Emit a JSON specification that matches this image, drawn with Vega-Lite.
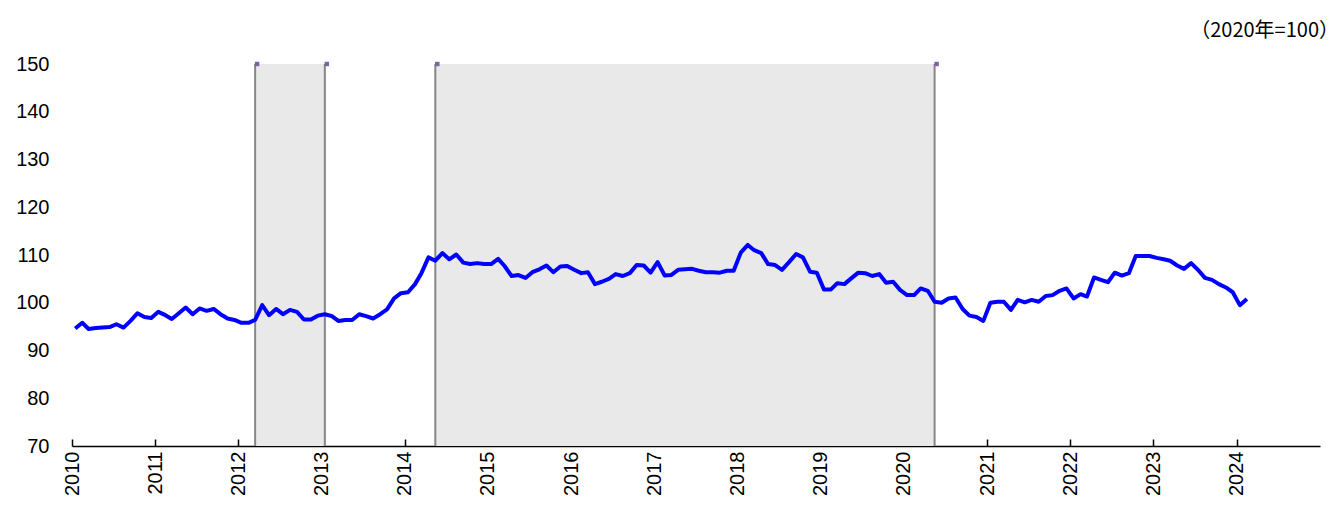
{
  "$schema": "https://vega.github.io/schema/vega-lite/v6.json",
  "width": 1248,
  "height": 382,
  "autosize": "none",
  "padding": {"left": 72, "top": 64, "right": 19, "bottom": 64},
  "background": "white",
  "title": {"text": "（2020年=100）", "anchor": "end", "dx": 19, "offset": 13, "fontSize": 20, "font": "Noto Sans CJK JP", "fontWeight": "normal", "color": "#000000"},
  "config": {"view": {"stroke": null}},
  "datasets": {
    "series": [
      {"d":"2010-01-15","v":94.6},{"d":"2010-02-15","v":95.8},{"d":"2010-03-15","v":94.5},{"d":"2010-04-15","v":94.7},{"d":"2010-05-15","v":94.8},{"d":"2010-06-15","v":94.9},{"d":"2010-07-15","v":95.5},{"d":"2010-08-15","v":94.8},{"d":"2010-09-15","v":96.2},{"d":"2010-10-15","v":97.8},{"d":"2010-11-15","v":97.0},{"d":"2010-12-15","v":96.8},
      {"d":"2011-01-15","v":98.1},{"d":"2011-02-15","v":97.4},{"d":"2011-03-15","v":96.6},{"d":"2011-04-15","v":97.8},{"d":"2011-05-15","v":99.0},{"d":"2011-06-15","v":97.6},{"d":"2011-07-15","v":98.8},{"d":"2011-08-15","v":98.3},{"d":"2011-09-15","v":98.7},{"d":"2011-10-15","v":97.6},{"d":"2011-11-15","v":96.7},{"d":"2011-12-15","v":96.4},
      {"d":"2012-01-15","v":95.8},{"d":"2012-02-15","v":95.8},{"d":"2012-03-15","v":96.4},{"d":"2012-04-15","v":99.5},{"d":"2012-05-15","v":97.4},{"d":"2012-06-15","v":98.7},{"d":"2012-07-15","v":97.6},{"d":"2012-08-15","v":98.5},{"d":"2012-09-15","v":98.1},{"d":"2012-10-15","v":96.5},{"d":"2012-11-15","v":96.5},{"d":"2012-12-15","v":97.3},
      {"d":"2013-01-15","v":97.6},{"d":"2013-02-15","v":97.2},{"d":"2013-03-15","v":96.2},{"d":"2013-04-15","v":96.4},{"d":"2013-05-15","v":96.4},{"d":"2013-06-15","v":97.6},{"d":"2013-07-15","v":97.2},{"d":"2013-08-15","v":96.7},{"d":"2013-09-15","v":97.6},{"d":"2013-10-15","v":98.6},{"d":"2013-11-15","v":100.9},{"d":"2013-12-15","v":102.0},
      {"d":"2014-01-15","v":102.2},{"d":"2014-02-15","v":103.9},{"d":"2014-03-15","v":106.2},{"d":"2014-04-15","v":109.5},{"d":"2014-05-15","v":108.8},{"d":"2014-06-15","v":110.4},{"d":"2014-07-15","v":109.1},{"d":"2014-08-15","v":110.1},{"d":"2014-09-15","v":108.4},{"d":"2014-10-15","v":108.1},{"d":"2014-11-15","v":108.3},{"d":"2014-12-15","v":108.1},
      {"d":"2015-01-15","v":108.1},{"d":"2015-02-15","v":109.2},{"d":"2015-03-15","v":107.7},{"d":"2015-04-15","v":105.6},{"d":"2015-05-15","v":105.8},{"d":"2015-06-15","v":105.2},{"d":"2015-07-15","v":106.4},{"d":"2015-08-15","v":107.0},{"d":"2015-09-15","v":107.8},{"d":"2015-10-15","v":106.4},{"d":"2015-11-15","v":107.6},{"d":"2015-12-15","v":107.7},
      {"d":"2016-01-15","v":106.9},{"d":"2016-02-15","v":106.2},{"d":"2016-03-15","v":106.4},{"d":"2016-04-15","v":103.9},{"d":"2016-05-15","v":104.4},{"d":"2016-06-15","v":105.0},{"d":"2016-07-15","v":106.0},{"d":"2016-08-15","v":105.6},{"d":"2016-09-15","v":106.2},{"d":"2016-10-15","v":107.9},{"d":"2016-11-15","v":107.8},{"d":"2016-12-15","v":106.3},
      {"d":"2017-01-15","v":108.5},{"d":"2017-02-15","v":105.7},{"d":"2017-03-15","v":105.8},{"d":"2017-04-15","v":106.9},{"d":"2017-05-15","v":107.0},{"d":"2017-06-15","v":107.1},{"d":"2017-07-15","v":106.7},{"d":"2017-08-15","v":106.4},{"d":"2017-09-15","v":106.4},{"d":"2017-10-15","v":106.3},{"d":"2017-11-15","v":106.7},{"d":"2017-12-15","v":106.7},
      {"d":"2018-01-15","v":110.5},{"d":"2018-02-15","v":112.1},{"d":"2018-03-15","v":111.0},{"d":"2018-04-15","v":110.4},{"d":"2018-05-15","v":108.1},{"d":"2018-06-15","v":107.9},{"d":"2018-07-15","v":106.9},{"d":"2018-08-15","v":108.5},{"d":"2018-09-15","v":110.2},{"d":"2018-10-15","v":109.5},{"d":"2018-11-15","v":106.5},{"d":"2018-12-15","v":106.3},
      {"d":"2019-01-15","v":102.8},{"d":"2019-02-15","v":102.8},{"d":"2019-03-15","v":104.1},{"d":"2019-04-15","v":103.9},{"d":"2019-05-15","v":105.1},{"d":"2019-06-15","v":106.3},{"d":"2019-07-15","v":106.2},{"d":"2019-08-15","v":105.6},{"d":"2019-09-15","v":106.0},{"d":"2019-10-15","v":104.2},{"d":"2019-11-15","v":104.4},{"d":"2019-12-15","v":102.7},
      {"d":"2020-01-15","v":101.6},{"d":"2020-02-15","v":101.6},{"d":"2020-03-15","v":103.0},{"d":"2020-04-15","v":102.5},{"d":"2020-05-15","v":100.2},{"d":"2020-06-15","v":100.0},{"d":"2020-07-15","v":100.9},{"d":"2020-08-15","v":101.1},{"d":"2020-09-15","v":98.7},{"d":"2020-10-15","v":97.3},{"d":"2020-11-15","v":97.0},{"d":"2020-12-15","v":96.2},
      {"d":"2021-01-15","v":100.0},{"d":"2021-02-15","v":100.2},{"d":"2021-03-15","v":100.2},{"d":"2021-04-15","v":98.5},{"d":"2021-05-15","v":100.6},{"d":"2021-06-15","v":100.1},{"d":"2021-07-15","v":100.6},{"d":"2021-08-15","v":100.2},{"d":"2021-09-15","v":101.4},{"d":"2021-10-15","v":101.6},{"d":"2021-11-15","v":102.5},{"d":"2021-12-15","v":103.0},
      {"d":"2022-01-15","v":100.9},{"d":"2022-02-15","v":101.8},{"d":"2022-03-15","v":101.3},{"d":"2022-04-15","v":105.3},{"d":"2022-05-15","v":104.8},{"d":"2022-06-15","v":104.3},{"d":"2022-07-15","v":106.3},{"d":"2022-08-15","v":105.7},{"d":"2022-09-15","v":106.2},{"d":"2022-10-15","v":109.8},{"d":"2022-11-15","v":109.8},{"d":"2022-12-15","v":109.8},
      {"d":"2023-01-15","v":109.4},{"d":"2023-02-15","v":109.1},{"d":"2023-03-15","v":108.8},{"d":"2023-04-15","v":107.8},{"d":"2023-05-15","v":107.1},{"d":"2023-06-15","v":108.3},{"d":"2023-07-15","v":106.9},{"d":"2023-08-15","v":105.2},{"d":"2023-09-15","v":104.8},{"d":"2023-10-15","v":103.9},{"d":"2023-11-15","v":103.2},{"d":"2023-12-15","v":102.2},
      {"d":"2024-01-15","v":99.5},{"d":"2024-02-15","v":100.8}
    ],
    "periods": [
      {"start":"2012-03-15","end":"2013-01-15"},
      {"start":"2014-05-15","end":"2020-05-15"}
    ],
    "edges": [
      {"d":"2012-03-15"},{"d":"2013-01-15"},{"d":"2014-05-15"},{"d":"2020-05-15"}
    ]
  },
  "layer": [
    {
      "data": {"name": "periods"},
      "mark": {"type": "rect", "color": "#e9e9e9"},
      "encoding": {
        "x": {"field": "start", "type": "temporal"},
        "x2": {"field": "end"}
      }
    },
    {
      "data": {"name": "edges"},
      "mark": {"type": "rule", "color": "#868686", "strokeWidth": 2},
      "encoding": {
        "x": {"field": "d", "type": "temporal"}
      }
    },
    {
      "data": {"name": "edges"},
      "mark": {"type": "point", "shape": "square", "filled": true, "color": "#8064a2", "size": 20, "opacity": 1, "xOffset": 2},
      "encoding": {
        "x": {"field": "d", "type": "temporal"},
        "y": {"datum": 150, "type": "quantitative"}
      }
    },
    {
      "data": {"name": "series"},
      "mark": {"type": "line", "color": "#0000ff", "strokeWidth": 4, "strokeJoin": "round"},
      "encoding": {
        "x": {
          "field": "d", "type": "temporal",
          "scale": {"domain": ["2010-01-01", "2025-01-01"]},
          "axis": {
            "title": null, "format": "%Y",
            "values": ["2010-01-01","2011-01-01","2012-01-01","2013-01-01","2014-01-01","2015-01-01","2016-01-01","2017-01-01","2018-01-01","2019-01-01","2020-01-01","2021-01-01","2022-01-01","2023-01-01","2024-01-01"],
            "labelAngle": 270, "labelFont": "Liberation Sans", "labelFontSize": 20, "labelColor": "#000000",
            "labelPadding": 12, "tickSize": -7, "tickColor": "#000000", "tickWidth": 1.5,
            "domainColor": "#000000", "domainWidth": 1.5, "grid": false, "labelFlush": false, "labelOverlap": false
          }
        },
        "y": {
          "field": "v", "type": "quantitative",
          "scale": {"domain": [70, 150], "nice": false, "zero": false},
          "axis": {
            "title": null, "values": [70,80,90,100,110,120,130,140,150],
            "labelFont": "Liberation Sans", "labelFontSize": 20, "labelColor": "#000000",
            "ticks": false, "domain": false, "grid": false, "labelPadding": 23
          }
        }
      }
    }
  ]
}
